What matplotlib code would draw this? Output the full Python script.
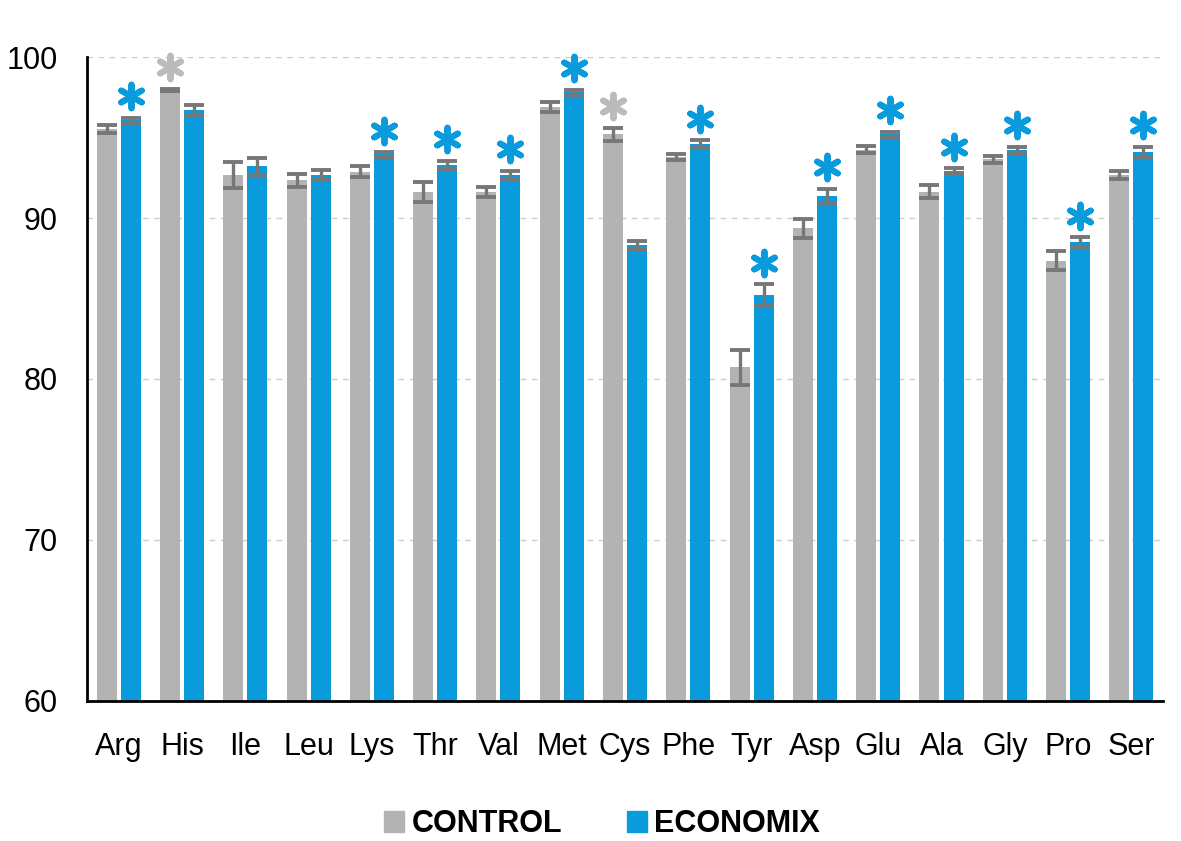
import numpy as np
import matplotlib.pyplot as plt
from matplotlib.patches import Patch

plt.rcParams['font.family'] = ['Liberation Sans', 'DejaVu Sans']

amino = ['Arg', 'His', 'Ile', 'Leu', 'Lys', 'Thr', 'Val', 'Met', 'Cys',
         'Phe', 'Tyr', 'Asp', 'Glu', 'Ala', 'Gly', 'Pro', 'Ser']
control = [95.55, 97.95, 92.65, 92.35, 92.88, 91.62, 91.62, 96.9, 95.2,
           93.8, 80.72, 89.36, 94.25, 91.63, 93.64, 87.35, 92.67]
control_err = [0.25, 0.05, 0.8, 0.4, 0.35, 0.62, 0.3, 0.3, 0.42,
               0.2, 1.1, 0.6, 0.22, 0.4, 0.2, 0.6, 0.25]
economix = [96.08, 96.7, 93.2, 92.67, 93.95, 93.3, 92.67, 97.8, 88.3,
            94.6, 85.24, 91.37, 95.2, 92.93, 94.2, 88.5, 94.1]
economix_err = [0.15, 0.3, 0.5, 0.3, 0.13, 0.23, 0.27, 0.15, 0.3,
                0.23, 0.64, 0.42, 0.15, 0.16, 0.2, 0.3, 0.3]
# significance marks: 'c' above control, 'e' above economix, '' none
signif = ['e', 'c', '', '', 'e', 'e', 'e', 'e', 'c',
          'e', 'e', 'e', 'e', 'e', 'e', 'e', 'e']

grey = '#b3b3b3'
blue = '#0a9bdc'
errc = '#777777'

fig = plt.figure(figsize=(11.81, 8.41), dpi=100)
ax = fig.add_axes([0.0737, 0.1665, 0.9111, 0.7657])

x = np.arange(len(amino))
w = 0.316
off = 0.19
ekw = dict(ecolor=errc, elinewidth=2.4, capsize=7.5, capthick=2.8)
ax.bar(x - off, control, w, color=grey, yerr=control_err, error_kw=ekw, zorder=2)
ax.bar(x + off, economix, w, color=blue, yerr=economix_err, error_kw=ekw, zorder=2)

for i, s in enumerate(signif):
    if s == 'c':
        ax.scatter(x[i] - off, control[i] + control_err[i] + 1.35, marker=(6, 2, 0),
                   s=290, linewidths=4.3, color='#bbbbbb', zorder=3, clip_on=False)
    elif s == 'e':
        ax.scatter(x[i] + off, economix[i] + economix_err[i] + 1.35, marker=(6, 2, 0),
                   s=290, linewidths=4.3, color=blue, zorder=3, clip_on=False)

ax.set_xlim(-0.5, len(amino) - 0.5)
ax.set_ylim(60, 100)
ax.set_yticks([60, 70, 80, 90, 100])
ax.set_xticks(x)
ax.set_xticklabels(amino)
ax.tick_params(axis='both', length=0, labelsize=22)
ax.tick_params(axis='x', pad=22)
ax.tick_params(axis='y', pad=21)
ax.yaxis.grid(True, linestyle=(0, (4, 4)), color='#cccccc', linewidth=1, zorder=0)
ax.set_axisbelow(True)
for sp in ['top', 'right']:
    ax.spines[sp].set_visible(False)
ax.spines['left'].set_linewidth(2)
ax.spines['bottom'].set_linewidth(2)

handles = [Patch(color=grey, label='CONTROL'), Patch(color=blue, label='ECONOMIX')]
fig.legend(handles=handles, loc='center', bbox_to_anchor=(0.51, 0.02), ncol=2,
           frameon=False, prop={'size': 22, 'weight': 'bold'},
           handlelength=0.65, handleheight=0.65, handletextpad=0.25, columnspacing=2.1,
           borderpad=0.1)

fig.savefig('out.png', dpi=100)
